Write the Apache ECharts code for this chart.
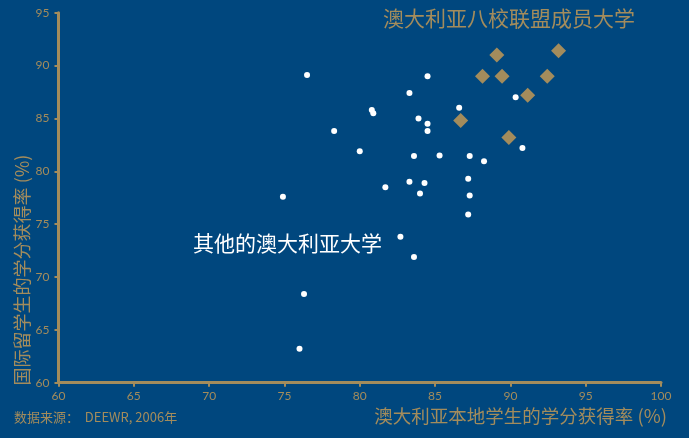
<!DOCTYPE html>
<html>
<head>
<meta charset="utf-8">
<script src="https://cdn.jsdelivr.net/npm/echarts@6/dist/echarts.min.js"></script>
<style>
html,body{margin:0;padding:0;background:#00477e;}
#main{width:689px;height:438px;}
</style>
</head>
<body>
<div id="main"></div>
<script>
// Other Australian universities: domestic pass rate (x), international pass rate (y)
var otherX = [76.5, 84.5, 83.3, 80.8, 80.9, 90.35, 86.6, 83.9, 84.5, 84.5, 78.3, 80.0, 90.8, 83.6, 85.3, 87.3, 88.25, 87.2, 81.7, 83.3, 84.3, 84.0, 87.3, 74.9, 87.2, 82.7, 83.6, 76.3, 76.0];
var otherY = [89.1, 89.0, 87.4, 85.8, 85.5, 87.0, 86.0, 85.0, 84.5, 83.8, 83.8, 81.9, 82.2, 81.45, 81.5, 81.45, 80.95, 79.3, 78.5, 79.0, 78.9, 77.9, 77.7, 77.6, 75.9, 73.8, 71.9, 68.4, 63.2];
// Group of Eight universities
var go8X = [89.1, 93.2, 88.15, 89.45, 92.45, 91.15, 86.7, 89.9];
var go8Y = [91.0, 91.4, 89.0, 89.0, 89.0, 87.2, 84.8, 83.2];

var xTicks = [60, 65, 70, 75, 80, 85, 90, 95, 100];
var yTicks = [60, 65, 70, 75, 80, 85, 90, 95];

var titleText = '澳大利亚八校联盟成员大学';
var otherLabel = '其他的澳大利亚大学';
var xName = '澳大利亚本地学生的学分获得率 (%)';
var yName = '国际留学生的学分获得率 (%)';
var sourceText = '数据来源：  DEEWR, 2006年';

var gold = '#a38c5c';
var bg = '#00477e';
var cjk = '"Noto Sans CJK SC", "Noto Sans", sans-serif';
var numFont = 'Lato, "Noto Sans", sans-serif';

function pairs(xs, ys) { return xs.map(function (v, i) { return [v, ys[i]]; }); }

var chart = echarts.init(document.getElementById('main'), null, {renderer: 'canvas'});
chart.setOption({
  backgroundColor: bg,
  animation: false,
  grid: {left: 58.5, right: 28, top: 12.7, bottom: 55.3, containLabel: false},
  xAxis: {
    type: 'value', min: xTicks[0], max: xTicks[xTicks.length - 1], interval: 5,
    splitLine: {show: false},
    axisLine: {show: true, onZero: false, lineStyle: {color: gold, width: 3}},
    axisTick: {show: true, length: 4, lineStyle: {color: gold, width: 2}},
    axisLabel: {color: gold, fontSize: 12, fontFamily: numFont, margin: 7}
  },
  yAxis: {
    type: 'value', min: yTicks[0], max: yTicks[yTicks.length - 1], interval: 5,
    splitLine: {show: false},
    axisLine: {show: true, onZero: false, lineStyle: {color: gold, width: 3}},
    axisTick: {show: true, length: 4, lineStyle: {color: gold, width: 2}},
    axisLabel: {color: gold, fontSize: 12, fontFamily: numFont, margin: 9}
  },
  series: [
    {
      type: 'scatter', name: otherLabel, data: pairs(otherX, otherY),
      symbol: 'circle', symbolSize: 6,
      itemStyle: {color: '#ffffff', opacity: 1}
    },
    {
      type: 'scatter', name: titleText, data: pairs(go8X, go8Y),
      symbol: 'diamond', symbolSize: 15,
      itemStyle: {color: gold, opacity: 1}
    }
  ],
  graphic: [
    {type: 'text', left: 383, top: 8, style: {text: titleText, fill: gold, font: '21px ' + cjk}},
    {type: 'text', left: 193, top: 233, style: {text: otherLabel, fill: '#ffffff', font: '21px ' + cjk}},
    {type: 'text', right: 22, top: 407, style: {text: xName, fill: gold, font: '18.5px ' + cjk}},
    {type: 'text', x: 21.7, y: 270, rotation: Math.PI / 2,
      style: {text: yName, fill: gold, font: '18px ' + cjk, align: 'center', verticalAlign: 'middle'}},
    {type: 'text', left: 14, top: 411, style: {text: sourceText, fill: gold, font: '13px ' + cjk}}
  ]
});
</script>
</body>
</html>
